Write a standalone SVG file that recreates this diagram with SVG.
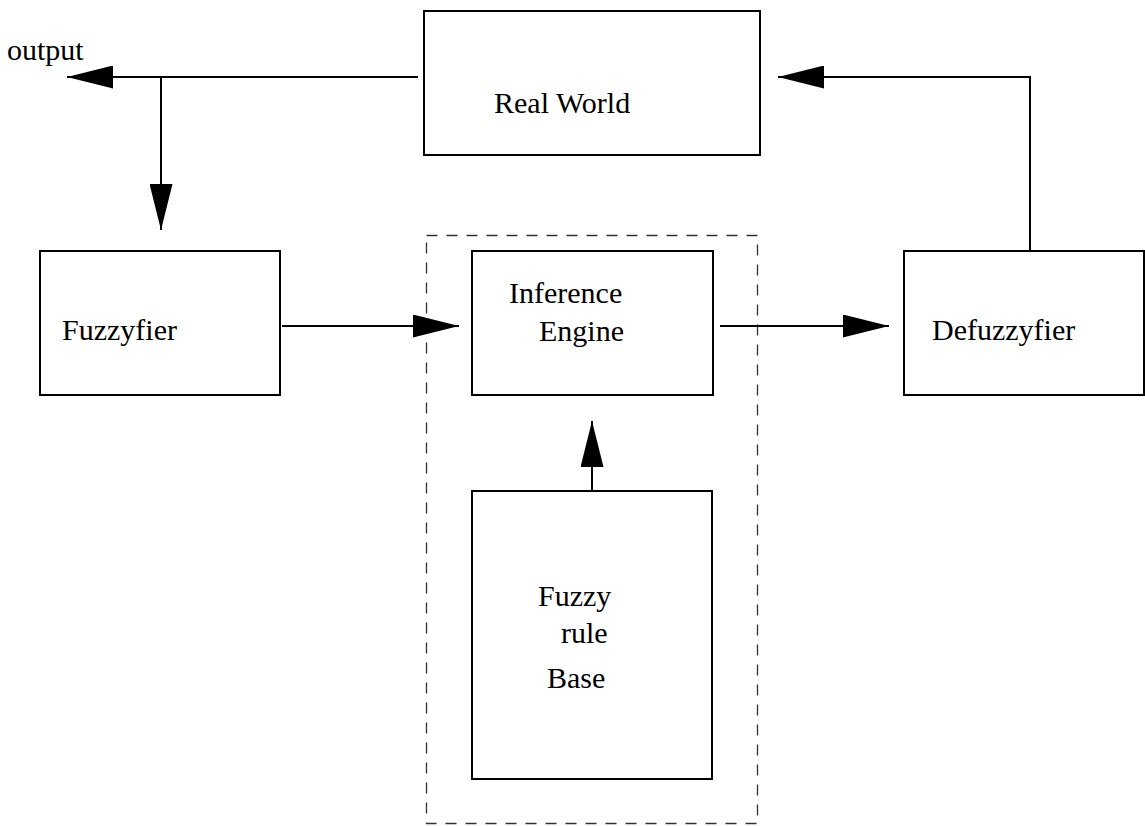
<svg xmlns="http://www.w3.org/2000/svg" width="1145" height="826" viewBox="0 0 1145 826">
  <style>
    .box { fill: #fff; stroke: #000; stroke-width: 2; }
    .group { fill: none; stroke: #333; stroke-width: 1.3; stroke-dasharray: 11 9; }
    .wire { fill: none; stroke: #000; stroke-width: 2; }
    text { font-family: "Liberation Serif", "Times New Roman", serif; font-size: 30px; fill: #000; }
  </style>
  <defs>
    <marker id="arrow" viewBox="0 0 46 23" refX="46" refY="11.5" markerWidth="46" markerHeight="23" markerUnits="userSpaceOnUse" orient="auto">
      <path d="M0,0 L46,11.5 L0,23 Z" fill="#000"/>
    </marker>
  </defs>

  <!-- dashed grouping around the inference part -->
  <rect id="inference-group" class="group" x="426.5" y="235.5" width="331" height="588"/>

  <g id="real-world">
    <rect class="box" x="424" y="11" width="336" height="144"/>
    <text x="494" y="113">Real World</text>
  </g>

  <g id="fuzzyfier">
    <rect class="box" x="40" y="251" width="240" height="144"/>
    <text x="62" y="340">Fuzzyfier</text>
  </g>

  <g id="inference-engine">
    <rect class="box" x="472" y="251" width="241" height="144"/>
    <text x="509" y="303">Inference</text>
    <text x="539" y="341">Engine</text>
  </g>

  <g id="defuzzyfier">
    <rect class="box" x="904" y="251" width="240" height="144"/>
    <text x="932" y="340">Defuzzyfier</text>
  </g>

  <g id="rule-base">
    <rect class="box" x="472" y="491" width="240" height="288"/>
    <text x="538" y="606">Fuzzy</text>
    <text x="561" y="643">rule</text>
    <text x="547" y="688">Base</text>
  </g>

  <text id="output-label" x="7" y="60">output</text>

  <g id="connectors">
    <path class="wire" d="M418,77 L67,77" marker-end="url(#arrow)"/>
    <path class="wire" d="M161,77 L161,230" marker-end="url(#arrow)"/>
    <path class="wire" d="M1030,251 L1030,77 L778,77" marker-end="url(#arrow)"/>
    <path class="wire" d="M282,326 L459,326" marker-end="url(#arrow)"/>
    <path class="wire" d="M720,326 L889,326" marker-end="url(#arrow)"/>
    <path class="wire" d="M592,491 L592,421" marker-end="url(#arrow)"/>
  </g>
</svg>
